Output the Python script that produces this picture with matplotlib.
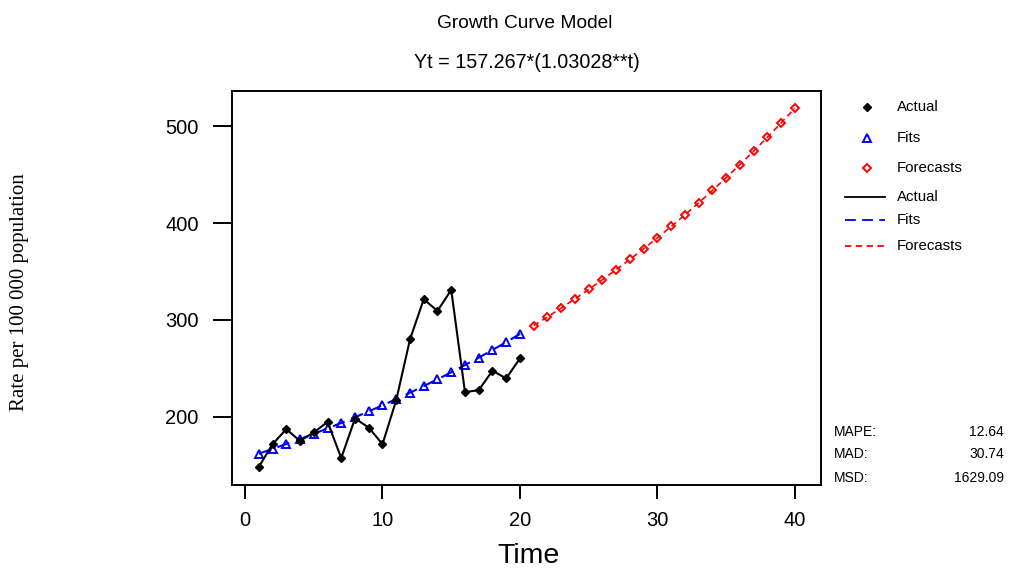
import matplotlib
matplotlib.use("Agg")
import matplotlib.pyplot as plt
from matplotlib.lines import Line2D

# Observed series (t = 1..20)
t_actual = list(range(1, 21))
actual = [148.3, 171.8, 187.3, 175.2, 183.9, 194.8, 157.6, 198.3, 189.0, 171.8,
          217.3, 280.0, 321.4, 309.3, 331.0, 225.5, 227.6, 247.6, 239.7, 260.4]

# Fitted values of the growth curve (t = 1..20)
t_fits = list(range(1, 21))
fits = [162.03, 166.93, 171.99, 177.19, 182.56, 188.09, 193.78, 199.65, 205.70, 211.93,
        218.35, 224.96, 231.77, 238.79, 246.02, 253.47, 261.14, 269.05, 277.20, 285.59]

# Forecasts (t = 21..40)
t_fore = list(range(21, 41))
forecasts = [294.24, 303.15, 312.33, 321.79, 331.53, 341.57, 351.91, 362.57, 373.55, 384.86,
             396.51, 408.52, 420.89, 433.63, 446.76, 460.29, 474.23, 488.59, 503.38, 518.62]

x_ticks = [0, 10, 20, 30, 40]
y_ticks = [200, 300, 400, 500]

title = "Growth Curve Model"
subtitle = "Yt = 157.267*(1.03028**t)"
x_label = "Time"
y_label = "Rate per 100 000 population"

stat_names = ["MAPE:", "MAD:", "MSD:"]
stat_values = ["12.64", "30.74", "1629.09"]

SANS = ["Liberation Sans", "Arial", "DejaVu Sans"]
SERIF = ["Liberation Serif", "DejaVu Serif"]

fig = plt.figure(figsize=(10.10, 5.71), dpi=100)
fig.patch.set_facecolor("white")
ax = fig.add_axes([0.2294, 0.1506, 0.5835, 0.6906])

ax.plot(t_actual, actual, color="black", lw=1.5, marker="D", ms=3.8,
        mfc="black", mec="black", zorder=4)
ax.plot(t_fits, fits, color="blue", lw=1.5, ls=(0, (6, 3.5)), marker="^", ms=6,
        mfc="none", mec="blue", mew=1.4, zorder=3)
ax.plot(t_fore, forecasts, color="red", lw=1.2, ls=(0, (3.5, 2.5)), marker="D", ms=4.5,
        mfc="none", mec="red", mew=1.4, zorder=3)

ax.set_xlim(-0.97, 41.9)
ax.set_ylim(129.7, 536.6)
ax.set_xticks(x_ticks)
ax.set_yticks(y_ticks)
ax.tick_params(direction="out", width=1.4, labelsize=14.5)
ax.tick_params(axis="x", length=10, pad=9)
ax.tick_params(axis="y", length=13.7, pad=10)
for lab in ax.get_xticklabels() + ax.get_yticklabels():
    lab.set_family(SANS)
for s in ax.spines.values():
    s.set_linewidth(1.4)

fig.text(0.5198, 1 - 23 / 571, title, ha="center", va="center", fontsize=13.8, family=SANS)
fig.text(0.5218, 1 - 62 / 571, subtitle, ha="center", va="center", fontsize=14.2, family=SANS)
fig.text(0.5228, 1 - 556 / 571, x_label, ha="center", va="center", fontsize=20.5, family=SANS)
fig.text(0.019, 1 - 292 / 571, y_label, ha="center", va="center", rotation=90,
         fontsize=15, family=SERIF)

# Legend block to the right of the axes
W, H = 1010.0, 571.0
def fx(px):
    return px / W
def fy(py):
    return 1 - py / H

legend_rows = [
    ("Actual", dict(marker="D", ms=3.8, mfc="black", mec="black", ls="none"), 107),
    ("Fits", dict(marker="^", ms=6, mfc="none", mec="blue", mew=1.4, ls="none"), 138),
    ("Forecasts", dict(marker="D", ms=4.5, mfc="none", mec="red", mew=1.4, ls="none"), 168),
    ("Actual", dict(color="black", lw=1.3, ls="-"), 197),
    ("Fits", dict(color="blue", lw=1.3, ls=(0, (6, 3.5))), 220),
    ("Forecasts", dict(color="red", lw=1.3, ls=(0, (3.5, 2.5))), 246),
]
for label, style, py in legend_rows:
    if style.get("ls") == "none":
        fig.add_artist(Line2D([fx(867)], [fy(py)], transform=fig.transFigure, **style))
    else:
        fig.add_artist(Line2D([fx(845), fx(885)], [fy(py), fy(py)],
                              transform=fig.transFigure, **style))
    fig.text(fx(897), fy(py), label, ha="left", va="center", fontsize=10.8, family=SANS)

for name, val, py in zip(stat_names, stat_values, [432, 454, 478]):
    fig.text(fx(834), fy(py), name, ha="left", va="center", fontsize=10, family=SANS)
    fig.text(fx(1004), fy(py), val, ha="right", va="center", fontsize=10, family=SANS)

fig.savefig("out.png", dpi=100, facecolor="white")
